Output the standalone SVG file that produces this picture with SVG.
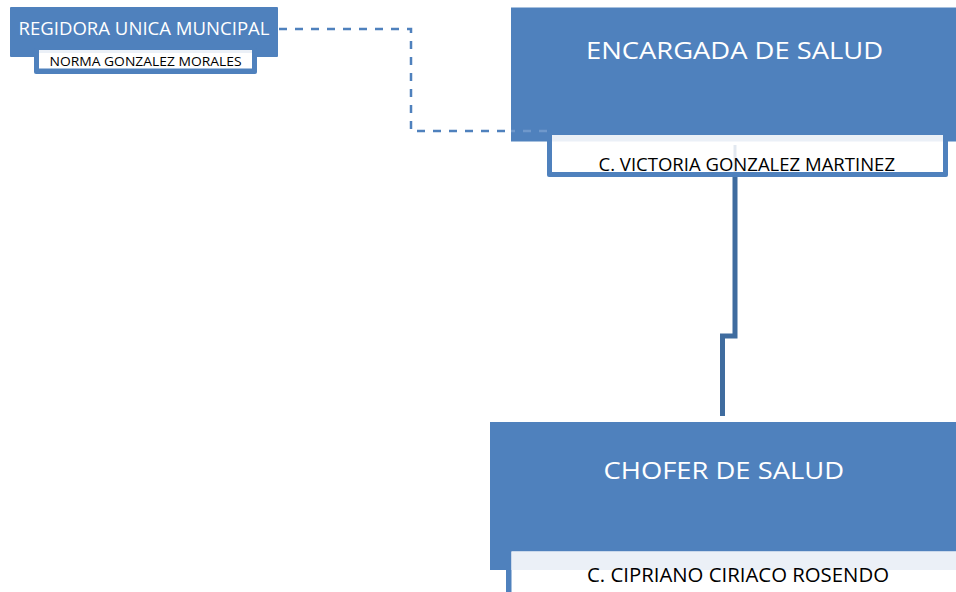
<svg xmlns="http://www.w3.org/2000/svg" width="956" height="592" viewBox="0 0 956 592">
<style>
.box{fill:#4F81BD;}
.sub{fill:#4F81BD;}
.inner{fill:#FFFFFF;}
.strip{fill:#EBF0F7;}
.title{font-family:"Open Sans","Liberation Sans",Arial,sans-serif;fill:#FFFFFF;}
.name{font-family:"Open Sans","Liberation Sans",Arial,sans-serif;fill:#000000;}
.dash{fill:none;stroke:#4F81BD;stroke-width:2.5;stroke-dasharray:8 8;}
.solid{fill:none;stroke:#3F6C9F;stroke-width:5;}
</style>
<rect width="956" height="592" fill="#FFFFFF"/>
<g id="connectors">
<path class="dash" d="M279,29 H411 V131 H511"/>
</g>
<g id="node-regidora">
<rect class="box" x="10" y="7" width="268" height="50" rx="1"/>
<rect class="sub" x="34" y="48" width="223" height="26" rx="2"/>
<rect class="inner" x="39" y="50" width="213" height="18.5"/>
<rect class="strip" x="39" y="50" width="213" height="3"/>
<text class="title" x="18.5" y="35" font-size="18.5" textLength="251" lengthAdjust="spacingAndGlyphs">REGIDORA UNICA MUNCIPAL</text>
<text class="name" x="49.5" y="65.5" font-size="13.5" textLength="192" lengthAdjust="spacingAndGlyphs">NORMA GONZALEZ MORALES</text>
</g>
<g id="node-encargada">
<rect class="box" x="511" y="7.5" width="450" height="134"/>
<path d="M511,131 H547" fill="none" stroke="#6F98CB" stroke-width="2.5" stroke-dasharray="8 8" stroke-dashoffset="4"/>
<rect class="sub" x="547" y="130" width="401" height="47" rx="2"/>
<rect class="inner" x="552" y="135" width="391" height="37"/>
<rect class="strip" x="552" y="135" width="391" height="6.5"/>
<line x1="735" y1="145" x2="735" y2="172" stroke="#E2E8F0" stroke-width="3"/>
<text class="title" x="586" y="59.3" font-size="24.5" textLength="297" lengthAdjust="spacingAndGlyphs">ENCARGADA DE SALUD</text>
<text class="name" x="598.5" y="170.5" font-size="17.5" textLength="296.5" lengthAdjust="spacingAndGlyphs">C. VICTORIA GONZALEZ MARTINEZ</text>
</g>
<g id="connectors-solid">
<path class="solid" d="M735,177 V336 H722.5 V416"/>
</g>
<g id="node-chofer">
<rect class="box" x="490" y="422" width="470" height="148"/>
<rect class="sub" x="506" y="548" width="460" height="60"/>
<rect class="inner" x="511.5" y="551.5" width="460" height="50"/>
<rect class="strip" x="511.5" y="551.5" width="460" height="18.5"/>
<text class="title" x="603.5" y="479.3" font-size="24.5" textLength="240.5" lengthAdjust="spacingAndGlyphs">CHOFER DE SALUD</text>
<text class="name" x="587" y="581.5" font-size="20" textLength="302" lengthAdjust="spacingAndGlyphs">C. CIPRIANO CIRIACO ROSENDO</text>
</g>
</svg>
